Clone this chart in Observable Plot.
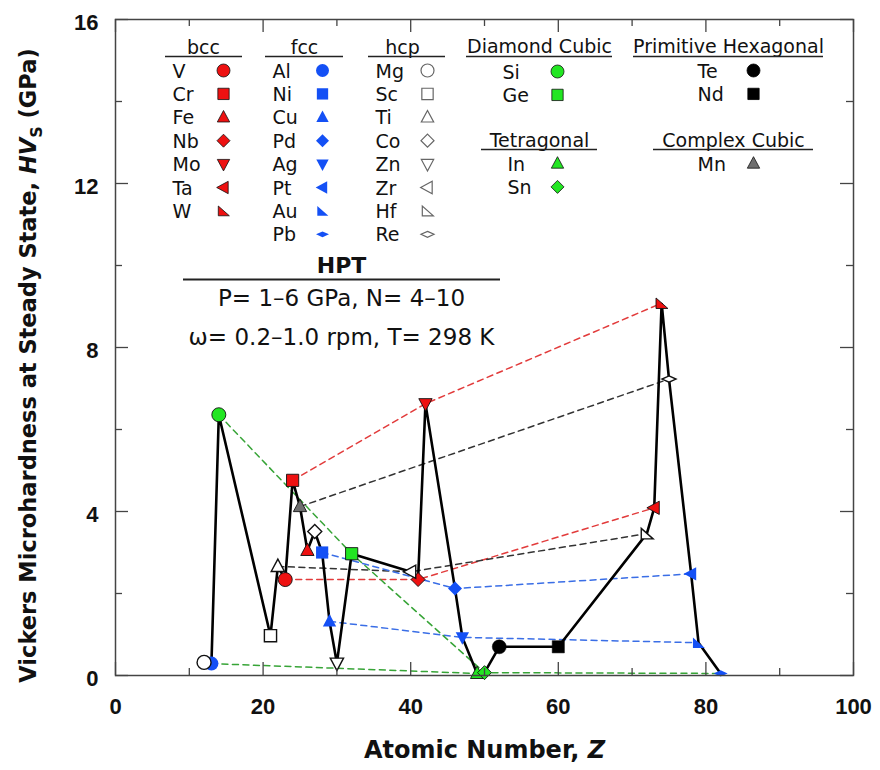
<!DOCTYPE html>
<html><head><meta charset="utf-8">
<script src="https://cdn.jsdelivr.net/npm/d3@7"></script>
<script src="https://cdn.jsdelivr.net/npm/@observablehq/plot@0.6"></script>
<style>body{margin:0;background:#fff}#chart{width:880px;height:770px}</style>
</head><body><div id="chart"></div>
<script>
// ---------------- data ----------------
const bccNames = ["V","Cr","Fe","Nb","Mo","Ta","W"];
const bccZ     = [23, 24, 26, 41, 42, 73, 74];
const bccHV    = [2.34, 4.76, 3.05, 2.34, 6.63, 4.09, 9.08];

const fccNames = ["Al","Ni","Cu","Pd","Ag","Pt","Au","Pb"];
const fccZ     = [13, 28, 29, 46, 47, 78, 79, 82];
const fccHV    = [0.29, 3.00, 1.32, 2.12, 0.93, 2.48, 0.80, 0.05];

const hcpNames = ["Mg","Sc","Ti","Co","Zn","Zr","Hf","Re"];
const hcpZ     = [12, 21, 22, 27, 30, 40, 72, 75];
const hcpHV    = [0.32, 0.97, 2.66, 3.51, 0.30, 2.53, 3.46, 7.23];

const diamondNames = ["Si","Ge"];
const diamondZ     = [14, 32];
const diamondHV    = [6.36, 2.97];

const tetraNames = ["In","Sn"];
const tetraZ     = [49, 50];
const tetraHV    = [0.05, 0.07];

const primHexNames = ["Te","Nd"];
const primHexZ     = [52, 60];
const primHexHV    = [0.70, 0.70];

const complexNames = ["Mn"];
const complexZ     = [25];
const complexHV    = [4.12];

// marker shapes (legend order)
const metalShapes   = ["circle","square","triangle","diamond","triangleDown","triangleLeft","cornerTriangle","flatDiamond"];
const diamondShapes = ["circle","square"];
const tetraShapes   = ["triangle","diamond"];
const primHexShapes = ["circle","square"];
const complexShapes = ["triangle"];

// periodic-table groups joined by dashed lines
const groupFamilies = [["V","Nb","Ta"],["Cr","Mo","W"],["Ti","Zr","Hf"],["Mn","Re"],
                       ["Ni","Pd","Pt"],["Cu","Ag","Au"],["Si","Ge","Sn","Pb"],["Al","In"]];
const groupHue = ["red","red","black","black","blue","blue","green","green"];

const xMajor = [0,20,40,60,80,100], xMinor = [10,30,50,70,90];
const yMajor = [0,4,8,12,16],       yMinor = [2,6,10,14];

// ---------------- styles / layout ----------------
const W = 880, H = 770, mL = 115, mR = 27, mT = 19, mB = 95;
const innerW = W - mL - mR, innerH = H - mT - mB;
const sx = d3.scaleLinear([0,100],[mL, W - mR]);
const sy = d3.scaleLinear([0,16],[H - mB, mT]);
const dashColor = {red:"#e23b3b", black:"#333333", blue:"#3a6ee6", green:"#37a437"};

function poly(pts){return {draw(ctx,size){const r=Math.sqrt(size/Math.PI);
  ctx.moveTo(pts[0][0]*r,pts[0][1]*r); for(let i=1;i<pts.length;i++) ctx.lineTo(pts[i][0]*r,pts[i][1]*r); ctx.closePath();}};}
const SYM = {
  circle:{draw(ctx,size){const r=Math.sqrt(size/Math.PI); ctx.moveTo(r,0); ctx.arc(0,0,r,0,2*Math.PI); ctx.closePath();}},
  square: poly([[-0.87,-0.87],[0.87,-0.87],[0.87,0.87],[-0.87,0.87]]),
  triangle: poly([[0,-1.05],[0.95,0.72],[-0.95,0.72]]),
  triangleDown: poly([[0,1.05],[0.95,-0.72],[-0.95,-0.72]]),
  triangleLeft: poly([[-1.05,0],[0.72,-0.95],[0.72,0.95]]),
  cornerTriangle: poly([[-0.8,-0.75],[-0.8,0.75],[0.9,0.75]]),
  diamond: poly([[0,-1],[1,0],[0,1],[-1,0]]),
  flatDiamond: poly([[0,-0.45],[1,0],[0,0.45],[-1,0]])
};

const structs = [
  {key:"bcc", title:"bcc", names:bccNames, Z:bccZ, HV:bccHV, shapes:metalShapes, fill:"#ee1111", stroke:"#111", sw:0.9, lstroke:"#111"},
  {key:"fcc", title:"fcc", names:fccNames, Z:fccZ, HV:fccHV, shapes:metalShapes, fill:"#1450f5", stroke:"none", sw:0, lstroke:"none"},
  {key:"hcp", title:"hcp", names:hcpNames, Z:hcpZ, HV:hcpHV, shapes:metalShapes, fill:"#fff", stroke:"#111", sw:1.4, lstroke:"#666"},
  {key:"diamond", title:"Diamond Cubic", names:diamondNames, Z:diamondZ, HV:diamondHV, shapes:diamondShapes, fill:"#22e622", stroke:"#111", sw:0.9, lstroke:"#111"},
  {key:"tetra", title:"Tetragonal", names:tetraNames, Z:tetraZ, HV:tetraHV, shapes:tetraShapes, fill:"#22e622", stroke:"#111", sw:0.9, lstroke:"#111"},
  {key:"primHex", title:"Primitive Hexagonal", names:primHexNames, Z:primHexZ, HV:primHexHV, shapes:primHexShapes, fill:"#000", stroke:"#000", sw:0.5, lstroke:"#000"},
  {key:"complex", title:"Complex Cubic", names:complexNames, Z:complexZ, HV:complexHV, shapes:complexShapes, fill:"#6e6e6e", stroke:"#111", sw:0.9, lstroke:"#111"}
];
// legend block layout in pixels
const legendLayout = {
  bcc:    {cx:203, x1:165, x2:242, nameX:172, markX:223, titleY:47, lineY:56, rowY:70},
  fcc:    {cx:304, x1:265, x2:343, nameX:272, markX:322, titleY:47, lineY:56, rowY:70},
  hcp:    {cx:402, x1:368, x2:445, nameX:375, markX:427, titleY:47, lineY:56, rowY:70},
  diamond:{cx:539, x1:466, x2:612, nameX:502, markX:557, titleY:46, lineY:56, rowY:71},
  primHex:{cx:728, x1:633, x2:823, nameX:697, markX:753, titleY:46, lineY:56, rowY:70},
  tetra:  {cx:539, x1:481, x2:597, nameX:507, markX:557, titleY:140, lineY:149, rowY:163},
  complex:{cx:733, x1:653, x2:813, nameX:697, markX:753, titleY:140, lineY:149, rowY:163}
};
const rowStep = 23.4;

// ---------------- build rows ----------------
const rows = structs.flatMap(s => s.names.map((n,i)=>({name:n, Z:s.Z[i], HV:s.HV[i], shape:s.shapes[i], struct:s.key})));
const byName = new Map(rows.map(d=>[d.name,d]));
const chain = rows.slice().sort((a,b)=>a.Z-b.Z);

const marks = [];
// dashed group lines
groupFamilies.forEach((fam,k)=>{
  marks.push(Plot.line(fam.map(n=>byName.get(n)), {x:"Z", y:"HV", stroke:dashColor[groupHue[k]], strokeWidth:1.5, strokeDasharray:"6,4.5"}));
});
// solid line through all elements by Z
marks.push(Plot.line(chain, {x:"Z", y:"HV", stroke:"#000", strokeWidth:2.6, strokeLinejoin:"miter"}));
// markers
structs.forEach(s=>{
  [...new Set(s.shapes)].forEach(sh=>{
    const d = rows.filter(r=>r.struct===s.key && r.shape===sh);
    marks.push(Plot.dot(d, {x:"Z", y:"HV", symbol:SYM[sh], r:7, fill:s.fill, stroke:s.stroke, strokeWidth:s.sw}));
  });
});

// legend
const LF = "DejaVu Sans";
structs.forEach(s=>{
  const L = legendLayout[s.key];
  marks.push(Plot.text([s.title], {x:sx.invert(L.cx), y:sy.invert(L.titleY), text:d=>d, fontSize:19, fontFamily:LF, fill:"#111", lineAnchor:"middle"}));
  marks.push(Plot.ruleY([sy.invert(L.lineY)], {x1:sx.invert(L.x1), x2:sx.invert(L.x2), stroke:"#222", strokeWidth:1.6}));
  const items = s.names.map((n,i)=>({n, shape:s.shapes[i], x:sx.invert(L.nameX), mx:sx.invert(L.markX), y:sy.invert(L.rowY + i*rowStep)}));
  marks.push(Plot.text(items, {x:"x", y:"y", text:"n", fontSize:19, fontFamily:LF, fill:"#111", textAnchor:"start", lineAnchor:"middle", dy:1}));
  [...new Set(s.shapes)].forEach(sh=>{
    marks.push(Plot.dot(items.filter(it=>it.shape===sh), {x:"mx", y:"y", symbol:SYM[sh], r:6.5, fill:s.fill, stroke:s.lstroke, strokeWidth: s.key==="hcp"?1.2:0.8}));
  });
});

// HPT condition box
const hptTitle = "HPT";
const hptLines = ["P= 1\u20136 GPa, N= 4\u201310", "\u03c9= 0.2\u20131.0 rpm, T= 298 K"];
marks.push(Plot.text([hptTitle], {x:sx.invert(341), y:sy.invert(265), text:d=>d, fontSize:22, fontWeight:"bold", fontFamily:LF, fill:"#111"}));
marks.push(Plot.ruleY([sy.invert(279)], {x1:sx.invert(183), x2:sx.invert(500), stroke:"#222", strokeWidth:1.8}));
marks.push(Plot.text(hptLines, {x:sx.invert(341), y:(d,i)=>sy.invert(298 + i*39), text:d=>d, fontSize:23, fontFamily:LF, fill:"#111"}));

// frame and inward ticks
marks.push(Plot.frame({stroke:"#444", strokeWidth:1.5}));
const tk = {stroke:"#444", strokeWidth:1.3};
marks.push(Plot.tickX(xMajor, {x:d=>d, insetTop:innerH-13, ...tk}));
marks.push(Plot.tickX(xMajor, {x:d=>d, insetBottom:innerH-13, ...tk}));
marks.push(Plot.tickX(xMinor, {x:d=>d, insetTop:innerH-7, ...tk}));
marks.push(Plot.tickX(xMinor, {x:d=>d, insetBottom:innerH-7, ...tk}));
marks.push(Plot.tickY(yMajor, {y:d=>d, insetRight:innerW-13, ...tk}));
marks.push(Plot.tickY(yMajor, {y:d=>d, insetLeft:innerW-13, ...tk}));
marks.push(Plot.tickY(yMinor, {y:d=>d, insetRight:innerW-7, ...tk}));
marks.push(Plot.tickY(yMinor, {y:d=>d, insetLeft:innerW-7, ...tk}));

// tick labels
const TF = "Liberation Sans";
marks.push(Plot.text(xMajor, {x:d=>d, frameAnchor:"bottom", dy:31, text:d=>String(d), fontSize:22, fontWeight:"bold", fontFamily:TF, fill:"#111", lineAnchor:"middle"}));
marks.push(Plot.text(yMajor, {y:d=>d, frameAnchor:"left", dx:-17, dy:3, text:d=>String(d), fontSize:22, fontWeight:"bold", fontFamily:TF, fill:"#111", textAnchor:"end", lineAnchor:"middle"}));

// axis titles
const xTitle = "Atomic Number, Z";
const yTitle = "Vickers Microhardness at Steady State, HVS (GPa)";
marks.push(Plot.text([xTitle], {frameAnchor:"bottom", dy:75, text:d=>d, fontSize:24, fontWeight:"bold", fontFamily:LF, fill:"#111", textAnchor:"middle", lineAnchor:"middle"}));
marks.push(Plot.text([yTitle], {frameAnchor:"left", dx:-87, dy:18, rotate:-90, text:d=>d, fontSize:22.5, fontWeight:"bold", fontFamily:LF, fill:"#111", textAnchor:"middle", lineAnchor:"middle"}));

const chart = Plot.plot({
  width:W, height:H, marginLeft:mL, marginRight:mR, marginTop:mT, marginBottom:mB,
  x:{domain:[0,100], axis:null}, y:{domain:[0,16], axis:null},
  style:{background:"#fff"},
  marks
});
document.getElementById("chart").appendChild(chart);

// rich text for axis titles (italic symbols, subscript)
const NS = "http://www.w3.org/2000/svg";
function span(parent, txt, attrs){const t=document.createElementNS(NS,"tspan"); t.textContent=txt; for(const k in attrs) t.setAttribute(k,attrs[k]); parent.appendChild(t);}
chart.querySelectorAll("text").forEach(t=>{
  if (t.textContent === xTitle){
    t.textContent=""; span(t,"Atomic Number, ",{}); span(t,"Z",{"font-style":"italic"});
  } else if (t.textContent === yTitle){
    t.textContent=""; span(t,"Vickers Microhardness at Steady State, ",{}); span(t,"HV",{"font-style":"italic"});
    span(t,"S",{"font-size":"16","dy":"6"}); span(t," (GPa)",{"dy":"-6"});
  }
});
</script></body></html>
